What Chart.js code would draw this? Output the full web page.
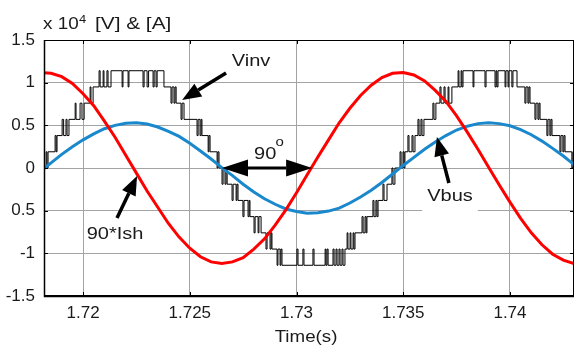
<!doctype html>
<html lang="en">
<head>
<meta charset="utf-8">
<title>Vinv, Vbus and 90*Ish</title>
<script src="https://cdn.jsdelivr.net/npm/chart.js@4.4.1/dist/chart.umd.min.js"></script>
<style>
  html, body { margin: 0; padding: 0; background: #fff; }
  #wrap { width: 576px; height: 349px; }
</style>
</head>
<body>
<div id="wrap"><canvas id="canvas" width="576" height="349"></canvas></div>
<script>
// axes
var xMin = 1.71817, xMax = 1.74300;
var xTicks = [1.72, 1.725, 1.73, 1.735, 1.74];
var xTickLabels = ['1.72', '1.725', '1.73', '1.735', '1.74'];
var yTicks = [-1.5, -1, -0.5, 0, 0.5, 1, 1.5];
var yTickLabels = ['-1.5', '-1', '0.5', '0', '0.5', '1', '1.5'];

// sampled waveforms, x 10^4
var timeSamples = [1.7180, 1.7185, 1.7190, 1.7195, 1.7200, 1.7205, 1.7210, 1.7215, 1.7220, 1.7225,
  1.7230, 1.7235, 1.7240, 1.7245, 1.7250, 1.7255, 1.7260, 1.7265, 1.7270, 1.7275,
  1.7280, 1.7285, 1.7290, 1.7295, 1.7300, 1.7305, 1.7310, 1.7315, 1.7320, 1.7325,
  1.7330, 1.7335, 1.7340, 1.7345, 1.7350, 1.7355, 1.7360, 1.7365, 1.7370, 1.7375,
  1.7380, 1.7385, 1.7390, 1.7395, 1.7400, 1.7405, 1.7410, 1.7415, 1.7420, 1.7425,
  1.7430, 1.7435];
var vbus = [-0.04, 0.06, 0.16, 0.25, 0.33, 0.40, 0.46, 0.50, 0.525, 0.53,
  0.515, 0.48, 0.43, 0.37, 0.29, 0.20, 0.105, 0.005, -0.09, -0.19,
  -0.28, -0.36, -0.425, -0.48, -0.51, -0.53, -0.525, -0.505, -0.47, -0.41,
  -0.34, -0.26, -0.17, -0.07, 0.03, 0.125, 0.22, 0.305, 0.38, 0.445,
  0.49, 0.52, 0.53, 0.52, 0.495, 0.45, 0.39, 0.315, 0.23, 0.14,
  0.04, -0.06];
var ish90 = [1.12, 1.11, 1.07, 0.99, 0.87, 0.73, 0.55, 0.36, 0.15, -0.06,
  -0.27, -0.46, -0.65, -0.81, -0.94, -1.04, -1.10, -1.12, -1.10, -1.05,
  -0.95, -0.83, -0.67, -0.49, -0.29, -0.08, 0.13, 0.33, 0.53, 0.70,
  0.85, 0.97, 1.06, 1.11, 1.12, 1.09, 1.02, 0.91, 0.78, 0.61,
  0.42, 0.22, 0.01, -0.20, -0.40, -0.59, -0.76, -0.90, -1.01, -1.08,
  -1.12, -1.11];

// Vinv: [switching instant (s), new level]
var vinvSteps = [
  [1.71817, 0], [1.71827, 0.19], [1.71831, 0], [1.71836, 0.19],
  [1.71869, 0.38], [1.71874, 0.19], [1.71878, 0.38],
  [1.71902, 0.57], [1.71909, 0.38], [1.71920, 0.57], [1.71925, 0.38], [1.71934, 0.57],
  [1.71963, 0.76], [1.71967, 0.57], [1.71986, 0.76], [1.71995, 0.57], [1.72005, 0.76],
  [1.72033, 0.95], [1.72037, 0.76], [1.72047, 0.95],
  [1.72075, 1.14], [1.72080, 0.95], [1.72094, 1.14], [1.72098, 0.95], [1.72112, 1.14], [1.72117, 0.95], [1.72131, 1.14],
  [1.72183, 0.95], [1.72187, 1.14], [1.72211, 0.95], [1.72215, 1.14],
  [1.72281, 0.95], [1.72286, 1.14], [1.72300, 0.95], [1.72307, 1.14], [1.72328, 0.95], [1.72333, 1.14],
  [1.72342, 0.95], [1.72347, 1.14], [1.72379, 0.95],
  [1.72412, 0.76], [1.72417, 0.95], [1.72426, 0.76], [1.72431, 0.95], [1.72436, 0.76],
  [1.72459, 0.57], [1.72464, 0.76], [1.72473, 0.57],
  [1.72534, 0.38], [1.72539, 0.57], [1.72548, 0.38], [1.72553, 0.57], [1.72557, 0.38],
  [1.72586, 0.19], [1.72590, 0.38], [1.72595, 0.19],
  [1.72628, 0], [1.72632, 0.19], [1.72637, 0],
  [1.72651, -0.19], [1.72656, 0], [1.72665, -0.19], [1.72670, 0], [1.72675, -0.19],
  [1.72698, -0.38], [1.72703, -0.19], [1.72717, -0.38], [1.72721, -0.19], [1.72726, -0.38],
  [1.72749, -0.57], [1.72754, -0.38], [1.72773, -0.57], [1.72778, -0.38], [1.72782, -0.57],
  [1.72801, -0.76], [1.72806, -0.57], [1.72820, -0.76], [1.72824, -0.57], [1.72834, -0.76],
  [1.72857, -0.95], [1.72862, -0.76], [1.72876, -0.95], [1.72881, -0.76], [1.72885, -0.95],
  [1.72909, -1.14], [1.72913, -0.95], [1.72923, -1.14], [1.72927, -0.95], [1.72932, -1.14],
  [1.73002, -0.95], [1.73007, -1.14], [1.73030, -0.95], [1.73035, -1.14], [1.73077, -0.95], [1.73082, -1.14],
  [1.73134, -0.95], [1.73138, -1.14], [1.73143, -0.95], [1.73148, -1.14],
  [1.73171, -0.95], [1.73176, -1.14], [1.73185, -0.95], [1.73190, -1.14], [1.73199, -0.95], [1.73204, -1.14],
  [1.73213, -0.95], [1.73218, -1.14], [1.73227, -0.95],
  [1.73237, -0.76], [1.73241, -0.95], [1.73251, -0.76], [1.73255, -0.95], [1.73265, -0.76], [1.73269, -0.95], [1.73274, -0.76],
  [1.73307, -0.57], [1.73312, -0.76], [1.73321, -0.57], [1.73326, -0.76], [1.73330, -0.57],
  [1.73358, -0.38], [1.73363, -0.57], [1.73372, -0.38], [1.73377, -0.57], [1.73382, -0.38],
  [1.73405, -0.19], [1.73410, -0.38], [1.73424, -0.19],
  [1.73447, 0], [1.73452, -0.19], [1.73461, 0],
  [1.73485, 0.19], [1.73490, 0], [1.73499, 0.19], [1.73504, 0], [1.73508, 0.19],
  [1.73522, 0.38], [1.73527, 0.19], [1.73541, 0.38], [1.73546, 0.19], [1.73555, 0.38],
  [1.73569, 0.57], [1.73574, 0.38], [1.73583, 0.57], [1.73588, 0.38], [1.73597, 0.57],
  [1.73639, 0.76], [1.73644, 0.57], [1.73653, 0.76],
  [1.73672, 0.95], [1.73677, 0.76], [1.73691, 0.95], [1.73696, 0.76], [1.73710, 0.95], [1.73714, 0.76], [1.73728, 0.95],
  [1.73757, 1.14], [1.73761, 0.95], [1.73771, 1.14], [1.73775, 0.95], [1.73780, 1.14],
  [1.73827, 0.95], [1.73831, 1.14], [1.73883, 0.95], [1.73888, 1.14],
  [1.73930, 0.95], [1.73935, 1.14], [1.73939, 0.95], [1.73944, 1.14],
  [1.73977, 0.95], [1.73981, 1.14], [1.73991, 0.95], [1.73995, 1.14], [1.74009, 0.95], [1.74014, 1.14],
  [1.74033, 0.95],
  [1.74070, 0.76], [1.74075, 0.95], [1.74084, 0.76], [1.74089, 0.95], [1.74094, 0.76],
  [1.74117, 0.57], [1.74122, 0.76], [1.74131, 0.57], [1.74136, 0.76], [1.74141, 0.57],
  [1.74173, 0.38], [1.74178, 0.57], [1.74187, 0.38], [1.74192, 0.57], [1.74197, 0.38],
  [1.74234, 0.19], [1.74239, 0.38], [1.74248, 0.19], [1.74253, 0.38], [1.74258, 0.19],
  [1.74290, 0], [1.74295, 0.19], [1.74300, 0]
];

// annotations (data coordinates)
var arrows = [
  {from: [1.72670, 1.113], to: [1.72464, 0.797]},   // Vinv
  {from: [1.72159, -0.586], to: [1.72253, -0.094]}, // 90*Ish
  {from: [1.73714, -0.176], to: [1.73658, 0.363]}   // Vbus
];
var phaseArrow = {from: [1.72651, 0], to: [1.73073, 0]};
var notes = [
  {text: 'Vinv', at: [1.72787, 1.242]},
  {text: '90*Ish', at: [1.72150, -0.785]},
  {text: 'Vbus', at: [1.73719, -0.34], box: true},
  {text: '90', at: [1.72853, 0.152]},
  {text: 'o', at: [1.72921, 0.30], small: true}
];

var fontFamily = "'Liberation Sans', Arial, sans-serif";
var tickFont = {family: fontFamily, size: 17};

function pts(xs, ys) {
  return xs.map(function(x, i) { return {x: x, y: ys[i]}; });
}

function wideText(ctx, str, x, y, sx, align) {
  ctx.save();
  ctx.translate(x, y);
  ctx.scale(sx, 1);
  ctx.textAlign = align || 'left';
  ctx.fillText(str, 0, 0);
  ctx.restore();
}

function head(ctx, tx, ty, fx, fy, len, half) {
  var a = Math.atan2(ty - fy, tx - fx);
  var bx = tx - len * Math.cos(a), by = ty - len * Math.sin(a);
  ctx.beginPath();
  ctx.moveTo(tx, ty);
  ctx.lineTo(bx + half * Math.sin(a), by - half * Math.cos(a));
  ctx.lineTo(bx - half * Math.sin(a), by + half * Math.cos(a));
  ctx.closePath();
  ctx.fill();
  return [bx, by];
}

var decorations = {
  id: 'decorations',
  beforeDraw: function(chart) {
    var ctx = chart.ctx;
    ctx.save();
    ctx.fillStyle = '#fff';
    ctx.fillRect(0, 0, chart.width, chart.height);
    ctx.restore();
  },
  afterDatasetsDraw: function(chart) {
    var ctx = chart.ctx, a = chart.chartArea, xs = chart.scales.x, ys = chart.scales.y;
    ctx.save();

    // box and inner ticks
    ctx.strokeStyle = '#000';
    ctx.lineWidth = 1;
    ctx.strokeRect(a.left + 0.5, a.top + 0.5, a.right - a.left - 1, a.bottom - a.top - 1);
    ctx.beginPath();
    xTicks.forEach(function(v) {
      var px = Math.round(xs.getPixelForValue(v)) + 0.5;
      ctx.moveTo(px, a.top); ctx.lineTo(px, a.top + 4);
      ctx.moveTo(px, a.bottom); ctx.lineTo(px, a.bottom - 4);
    });
    yTicks.forEach(function(v) {
      var py = Math.round(ys.getPixelForValue(v)) + 0.5;
      ctx.moveTo(a.left, py); ctx.lineTo(a.left + 4, py);
      ctx.moveTo(a.right, py); ctx.lineTo(a.right - 4, py);
    });
    ctx.stroke();
    ctx.lineWidth = 1.5;
    ctx.beginPath();
    ctx.moveTo(a.left + 0.5, a.top); ctx.lineTo(a.left + 0.5, a.bottom + 0.5); ctx.lineTo(a.right, a.bottom + 0.5);
    ctx.stroke();

    // annotation arrows
    ctx.fillStyle = '#000';
    ctx.strokeStyle = '#000';
    ctx.lineWidth = 3.5;
    arrows.forEach(function(ar) {
      var fx = xs.getPixelForValue(ar.from[0]), fy = ys.getPixelForValue(ar.from[1]);
      var tx = xs.getPixelForValue(ar.to[0]), ty = ys.getPixelForValue(ar.to[1]);
      var b = head(ctx, tx, ty, fx, fy, 19, 7.5);
      ctx.beginPath(); ctx.moveTo(fx, fy); ctx.lineTo(b[0], b[1]); ctx.stroke();
    });
    var p1x = xs.getPixelForValue(phaseArrow.from[0]), p1y = ys.getPixelForValue(phaseArrow.from[1]);
    var p2x = xs.getPixelForValue(phaseArrow.to[0]), p2y = ys.getPixelForValue(phaseArrow.to[1]);
    var b1 = head(ctx, p1x, p1y, p2x, p2y, 26, 8.5);
    var b2 = head(ctx, p2x, p2y, p1x, p1y, 26, 8.5);
    ctx.lineWidth = 3;
    ctx.beginPath(); ctx.moveTo(b1[0], b1[1]); ctx.lineTo(b2[0], b2[1]); ctx.stroke();

    // annotation texts
    ctx.textBaseline = 'middle';
    notes.forEach(function(n) {
      var x = xs.getPixelForValue(n.at[0]), y = ys.getPixelForValue(n.at[1]);
      ctx.font = (n.small ? 12 : 16) + 'px ' + fontFamily;
      if (n.box) {
        var w = ctx.measureText(n.text).width * 1.25;
        ctx.fillStyle = '#fff';
        ctx.fillRect(x - w / 2 - 5, y - 12, w + 10, 27);
      }
      ctx.fillStyle = '#1a1a1a';
      wideText(ctx, n.text, x, y, 1.25, 'center');
    });

    // axis titles
    ctx.textBaseline = 'alphabetic';
    ctx.font = '16px ' + fontFamily;
    wideText(ctx, 'x 10', a.left - 1, a.top - 11, 1.18, 'left');
    ctx.font = '11px ' + fontFamily;
    wideText(ctx, '4', a.left + 35, a.top - 17, 1.18, 'left');
    ctx.font = '16px ' + fontFamily;
    wideText(ctx, '[V] & [A]', a.left + 51, a.top - 11, 1.3, 'left');
    ctx.textBaseline = 'middle';
    wideText(ctx, 'Time(s)', (a.left + a.right) / 2 - 3, chart.height - 11, 1.17, 'center');
    ctx.restore();
  }
};

var ctx = document.getElementById('canvas').getContext('2d');
new Chart(ctx, {
  type: 'line',
  data: {
    datasets: [
      {label: '90*Ish', data: pts(timeSamples, ish90), borderColor: '#ff0000', borderWidth: 3, tension: 0, order: 1},
      {label: 'Vbus', data: pts(timeSamples, vbus), borderColor: '#1a88cc', borderWidth: 3, tension: 0, order: 2},
      {label: 'Vinv', data: vinvSteps.map(function(p) { return {x: p[0], y: p[1]}; }), borderColor: '#000', borderWidth: 1, stepped: true, order: 3}
    ]
  },
  options: {
    responsive: false,
    animation: false,
    devicePixelRatio: 1,
    layout: {padding: {top: 40, right: 2, bottom: 0, left: 0}},
    plugins: {legend: {display: false}, tooltip: {enabled: false}},
    elements: {point: {radius: 0}},
    scales: {
      x: {
        type: 'linear', min: xMin, max: xMax,
        afterFit: function(s) { s.height = 53; },
        afterBuildTicks: function(s) { s.ticks = xTicks.map(function(v) { return {value: v}; }); },
        grid: {color: '#a3a3a3', drawTicks: false},
        border: {display: false},
        ticks: {
          padding: 7, maxRotation: 0, autoSkip: false, font: tickFont, color: '#1a1a1a',
          callback: function(v, i) { return xTickLabels[i]; }
        }
      },
      y: {
        min: -1.5, max: 1.5,
        afterFit: function(s) { s.width = 44; },
        afterBuildTicks: function(s) { s.ticks = yTicks.map(function(v) { return {value: v}; }); },
        grid: {color: '#a3a3a3', drawTicks: false},
        border: {display: false},
        ticks: {
          padding: 9, font: tickFont, color: '#1a1a1a',
          callback: function(v, i) { return yTickLabels[i]; }
        }
      }
    }
  },
  plugins: [decorations]
});
</script>
</body>
</html>
